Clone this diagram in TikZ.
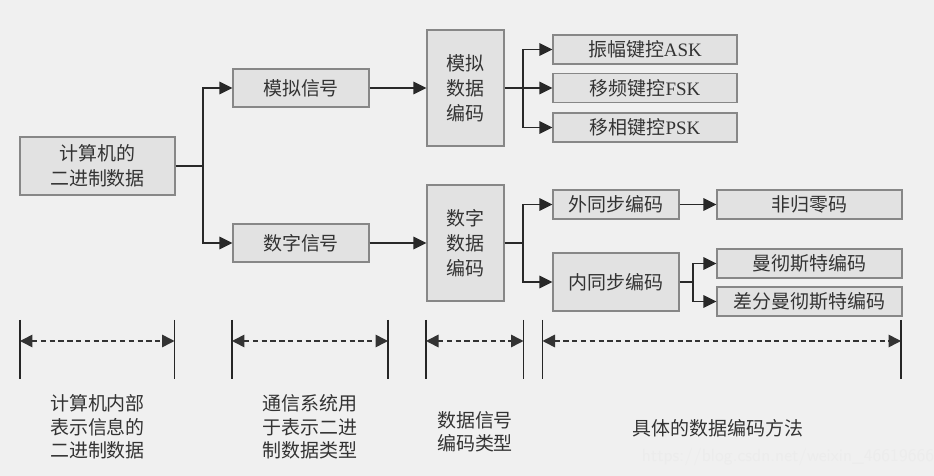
\documentclass[tikz,border=0pt]{standalone}
\usepackage{fontspec}
\setmainfont{Liberation Serif}
\newfontfamily\cjk{Noto Sans CJK SC}
\usetikzlibrary{arrows.meta}
\definecolor{bggray}{RGB}{240,240,240}
\definecolor{boxfill}{RGB}{226,226,226}
\definecolor{boxline}{RGB}{135,135,135}
\definecolor{linegray}{RGB}{40,40,40}
\tikzset{
  box/.style={draw=boxline, fill=boxfill, line width=0.7pt, inner sep=0pt, align=center,
    font=\cjk\fontsize{10.8}{14.2}\selectfont, text=black!80},
  link/.style={draw=linegray, line width=1pt},
  flow/.style={link, -{Triangle[length=0.26cm,width=0.25cm]}},
  bar/.style={draw=black!85, line width=0.8pt},
  span/.style={draw=black!80, line width=0.9pt, dashed, dash pattern=on 3pt off 2pt,
    {Triangle[length=0.25cm,width=0.25cm]}-{Triangle[length=0.25cm,width=0.25cm]}},
  note/.style={align=left, font=\cjk\fontsize{10.8}{13.4}\selectfont, text=black!80}
}
\begin{document}
\begin{tikzpicture}[x=0.02cm, y=-0.02cm]
  \fill[bggray] (0,0) rectangle (934,476);
  \useasboundingbox (0,0) rectangle (934,476);

  % boxes
  \node[box, minimum width=155*0.02cm, minimum height=58*0.02cm] (comp) at (97.5,166) {计算机的\\二进制数据};
  \node[box, minimum width=136*0.02cm, minimum height=38*0.02cm] (analog) at (301,88) {模拟信号};
  \node[box, minimum width=136*0.02cm, minimum height=38*0.02cm] (digital) at (301,243) {数字信号};
  \node[box, minimum width=77*0.02cm, minimum height=116*0.02cm] (anaenc) at (465.5,88) {模拟\\数据\\编码};
  \node[box, minimum width=77*0.02cm, minimum height=116*0.02cm] (digenc) at (465.5,243) {数字\\数据\\编码};
  \node[box, minimum width=184*0.02cm, minimum height=29*0.02cm] (ask) at (645,49.5) {振幅键控{\rmfamily ASK}};
  \node[box, minimum width=184*0.02cm, minimum height=29*0.02cm] (fsk) at (645,88) {移频键控{\rmfamily FSK}};
  \node[box, minimum width=184*0.02cm, minimum height=29*0.02cm] (psk) at (645,127.5) {移相键控{\rmfamily PSK}};
  \node[box, minimum width=126*0.02cm, minimum height=29*0.02cm] (ext) at (616,204.5) {外同步编码};
  \node[box, minimum width=126*0.02cm, minimum height=58*0.02cm] (int) at (616,282) {内同步编码};
  \node[box, minimum width=185*0.02cm, minimum height=29*0.02cm] (nrz) at (809.5,204.5) {非归零码};
  \node[box, minimum width=185*0.02cm, minimum height=29*0.02cm] (manch) at (809.5,263.5) {曼彻斯特编码};
  \node[box, minimum width=185*0.02cm, minimum height=29*0.02cm] (diffm) at (809.5,301.5) {差分曼彻斯特编码};

  % branch points
  \coordinate (j1) at (203,166);
  \coordinate (j2) at (523,88);
  \coordinate (j3) at (523,243);
  \coordinate (j4) at (693,282);

  \draw[link] (comp) -- (j1);
  \draw[flow] (j1) |- (analog);
  \draw[flow] (j1) |- (digital);
  \draw[flow] (analog) -- (anaenc);
  \draw[flow] (digital) -- (digenc);
  \draw[link] (anaenc) -- (j2);
  \draw[flow] (j2) |- (ask);
  \draw[flow] (j2) -- (fsk);
  \draw[flow] (j2) |- (psk);
  \draw[link] (digenc) -- (j3);
  \draw[flow] (j3) |- (ext);
  \draw[flow] (j3) |- (int);
  \draw[flow] (ext) -- (nrz);
  \draw[link] (int) -- (j4);
  \draw[flow] (j4) |- (manch);
  \draw[flow] (j4) |- (diffm);

  % ranges at the bottom
  \foreach \x/\n in {20/a, 174.5/b, 232/c, 388/d, 426/e, 523.5/f, 542.5/g, 901/h} {
    \draw[bar] (\x,320) -- (\x,379);
    \coordinate (\n) at (\x,341);
  }
  \draw[span] (a) -- (b);
  \draw[span] (c) -- (d);
  \draw[span] (e) -- (f);
  \draw[span] (g) -- (h);

  \node[note] (n1) at (97.5,427) {计算机内部\\表示信息的\\二进制数据};
  \node[note] (n2) at (310,427) {通信系统用\\于表示二进\\制数据类型};
  \node[note] (n3) at (475,432) {数据信号\\编码类型};
  \node[note] (n4) at (718,428) {具体的数据编码方法};
  \node[font=\sffamily\fontsize{10}{12}\selectfont, text=white!85!gray] (wm) at (788,457) {https://blog.csdn.net/weixin\_46619666};
\end{tikzpicture}
\end{document}
